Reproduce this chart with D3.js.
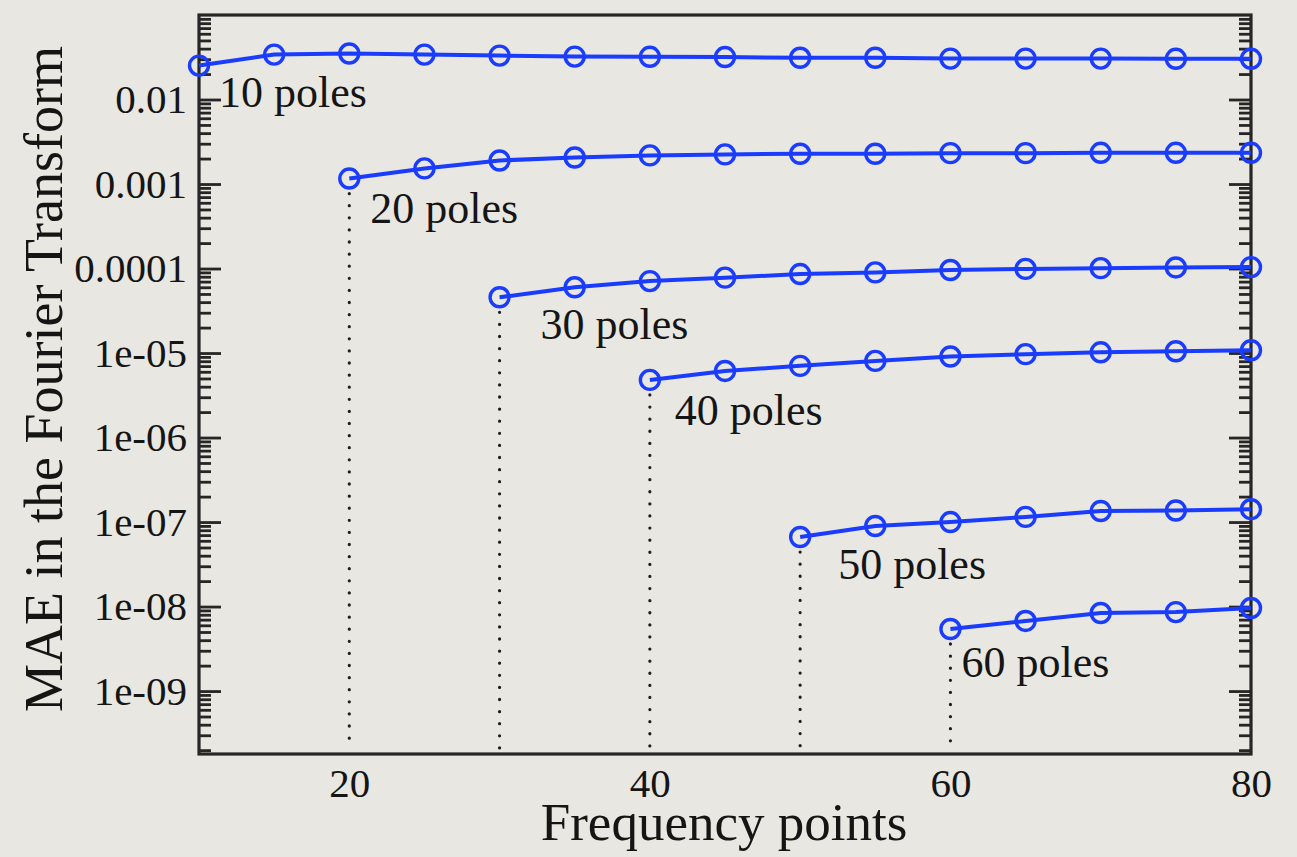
<!DOCTYPE html>
<html>
<head>
<meta charset="utf-8">
<title>MAE vs frequency points</title>
<script src="https://cdn.jsdelivr.net/npm/d3@7"></script>
<style>
  body { margin: 0; background: #e8e7e1; }
  svg { display: block; }
  text { font-family: "Liberation Serif", "Times New Roman", serif; fill: #151515; }
</style>
</head>
<body>
<svg id="chart" width="1297" height="857"></svg>
<script>
// frequency points (x)
var freq = [10, 15, 20, 25, 30, 35, 40, 45, 50, 55, 60, 65, 70, 75, 80];

// MAE per number of poles, each series starts at its own pole count
var poles10 = [0.0252, 0.0340, 0.0350, 0.0340, 0.0331, 0.0322, 0.0320, 0.0318, 0.0312, 0.0312, 0.0305, 0.0305, 0.0305, 0.0303, 0.0303];
var poles20 = [0.00116, 0.00153, 0.00190, 0.00206, 0.00218, 0.00224, 0.00228, 0.00228, 0.00232, 0.00232, 0.00234, 0.00234, 0.00234];
var poles30 = [4.57e-5, 6.0e-5, 7.1e-5, 7.8e-5, 8.6e-5, 9.0e-5, 9.6e-5, 9.9e-5, 1.01e-4, 1.03e-4, 1.04e-4];
var poles40 = [4.81e-6, 6.14e-6, 7.05e-6, 8.07e-6, 9.1e-6, 9.7e-6, 1.02e-5, 1.05e-5, 1.08e-5];
var poles50 = [6.65e-8, 8.97e-8, 1.0e-7, 1.15e-7, 1.35e-7, 1.37e-7, 1.42e-7];
var poles60 = [5.43e-9, 6.76e-9, 8.4e-9, 8.6e-9, 9.62e-9];

var seriesNames = ["10 poles", "20 poles", "30 poles", "40 poles", "50 poles", "60 poles"];
var seriesValues = [poles10, poles20, poles30, poles40, poles50, poles60];

var xTicks = [20, 40, 60, 80];
var yTicks = [1e-2, 1e-3, 1e-4, 1e-5, 1e-6, 1e-7, 1e-8, 1e-9];
var yTickLabels = ["0.01", "0.001", "0.0001", "1e-05", "1e-06", "1e-07", "1e-08", "1e-09"];

// where each label sits relative to the first point of its curve (px)
var labelOffsets = [[20, 41], [21, 44], [41, 42], [25, 45], [38, 42], [11, 48]];

var plotLeft = 199, plotRight = 1251, plotTop = 15, plotBottom = 754;
var blue = "#1a3cff";

var svg = d3.select("#chart");

var x = d3.scaleLinear().domain([10, 80]).range([plotLeft, plotRight]);
var y = d3.scaleLog().domain([1.8e-10, 0.1]).range([plotBottom, plotTop]);

// minor log ticks 2..9 in each decade
var minor = [];
for (var e = -10; e <= -2; e++) {
  for (var m = 2; m <= 9; m++) {
    var v = m * Math.pow(10, e);
    if (v > y.domain()[0] && v < y.domain()[1]) minor.push(v);
  }
}

function tickStyle(g) {
  g.select(".domain").remove();
  g.selectAll(".tick line").attr("stroke", "#262626").attr("stroke-width", 2.8);
}

// left axis
svg.append("g")
  .attr("transform", "translate(" + plotLeft + ",0)")
  .call(d3.axisLeft(y).tickValues(yTicks).tickSize(-22).tickPadding(12)
    .tickFormat(function(d, i) { return yTickLabels[i]; }))
  .call(tickStyle)
  .call(function(g) {
    g.selectAll("text").attr("font-size", 41).attr("fill", "#151515")
      .attr("font-family", "Liberation Serif, Times New Roman, serif");
  });

svg.append("g")
  .attr("transform", "translate(" + plotLeft + ",0)")
  .call(d3.axisLeft(y).tickValues(minor).tickSize(-12).tickFormat(""))
  .call(tickStyle);

// right axis, ticks only
svg.append("g")
  .attr("transform", "translate(" + plotRight + ",0)")
  .call(d3.axisRight(y).tickValues(yTicks).tickSize(-22).tickFormat(""))
  .call(tickStyle);

svg.append("g")
  .attr("transform", "translate(" + plotRight + ",0)")
  .call(d3.axisRight(y).tickValues(minor).tickSize(-12).tickFormat(""))
  .call(tickStyle);

// bottom axis, labels only
svg.append("g")
  .attr("transform", "translate(0," + plotBottom + ")")
  .call(d3.axisBottom(x).tickValues(xTicks).tickSize(0).tickPadding(14))
  .call(function(g) {
    g.select(".domain").remove();
    g.selectAll("text").attr("font-size", 41).attr("fill", "#151515")
      .attr("font-family", "Liberation Serif, Times New Roman, serif");
  });

// frame
svg.append("rect")
  .attr("x", plotLeft).attr("y", plotTop)
  .attr("width", plotRight - plotLeft).attr("height", plotBottom - plotTop)
  .attr("fill", "none").attr("stroke", "#262626").attr("stroke-width", 3.2);

// dotted drop lines from the start of each curve
seriesValues.forEach(function(vals, i) {
  if (i === 0) return;
  var x0 = freq[freq.length - vals.length];
  svg.append("line")
    .attr("x1", x(x0)).attr("x2", x(x0))
    .attr("y1", y(vals[0]) + 15).attr("y2", plotBottom - 6)
    .attr("stroke", "#1e1e1e").attr("stroke-width", 3.2)
    .attr("stroke-linecap", "round")
    .attr("stroke-dasharray", "0.1,12");
});

var line = d3.line()
  .x(function(d) { return x(d[0]); })
  .y(function(d) { return y(d[1]); });

seriesValues.forEach(function(vals, i) {
  var xs = freq.slice(freq.length - vals.length);
  var pts = xs.map(function(f, j) { return [f, vals[j]]; });

  svg.append("path")
    .datum(pts)
    .attr("d", line)
    .attr("fill", "none")
    .attr("stroke", blue)
    .attr("stroke-width", 4);

  svg.append("g").selectAll("circle")
    .data(pts)
    .join("circle")
    .attr("cx", function(d) { return x(d[0]); })
    .attr("cy", function(d) { return y(d[1]); })
    .attr("r", 9.5)
    .attr("fill", "none")
    .attr("stroke", blue)
    .attr("stroke-width", 3.4);

  svg.append("text")
    .attr("x", x(pts[0][0]) + labelOffsets[i][0])
    .attr("y", y(pts[0][1]) + labelOffsets[i][1])
    .attr("font-size", 44)
    .text(seriesNames[i]);
});

// axis titles
svg.append("text")
  .attr("x", (plotLeft + plotRight) / 2 - 1)
  .attr("y", 840)
  .attr("text-anchor", "middle")
  .attr("font-size", 53)
  .text("Frequency points");

svg.append("text")
  .attr("transform", "translate(62,379) rotate(-90)")
  .attr("text-anchor", "middle")
  .attr("font-size", 54)
  .text("MAE in the Fourier Transform");
</script>
</body>
</html>
